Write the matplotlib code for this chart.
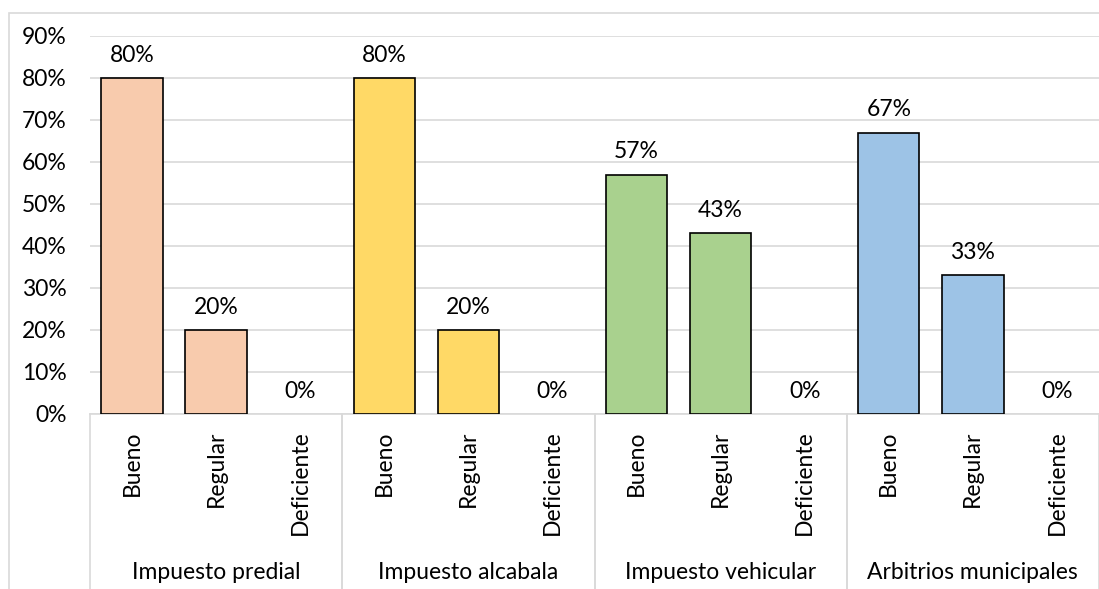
import matplotlib.pyplot as plt
from matplotlib.lines import Line2D
from matplotlib.patches import Rectangle

plt.rcParams['font.family'] = ['Lato', 'DejaVu Sans']

# data
groups = ['Impuesto predial', 'Impuesto alcabala', 'Impuesto vehicular', 'Arbitrios municipales']
levels = ['Bueno', 'Regular', 'Deficiente']
values = [
    [0.80, 0.20, 0.00],
    [0.80, 0.20, 0.00],
    [0.57, 0.43, 0.00],
    [0.67, 0.33, 0.00],
]
colors = ['#F8CBAD', '#FFD966', '#A9D18E', '#9DC3E6']
yticks = [0, 0.1, 0.2, 0.3, 0.4, 0.5, 0.6, 0.7, 0.8, 0.9]

FS = 16.5
W, H = 1099, 589
fig = plt.figure(figsize=(W / 100, H / 100), dpi=100)
ax = fig.add_axes([90 / W, 1 - 414 / H, 1 - 90 / W, (414 - 36) / H])

# outer chart border (Excel style)
fig.add_artist(Rectangle((9 / W, -0.1), 1.2, 1 - 13 / H + 0.1, transform=fig.transFigure,
                         fill=False, edgecolor='#D9D9D9', linewidth=1.2))

n = len(levels)
xtr = ax.get_xaxis_transform()
for g, (grp, vals, col) in enumerate(zip(groups, values, colors)):
    xs = [g * n + i for i in range(n)]
    edges = ['black' if v > 0 else 'none' for v in vals]
    ax.bar(xs, vals, width=0.73, color=col, edgecolor=edges, linewidth=1.2, zorder=3)
    for x, v, lvl in zip(xs, vals, levels):
        ax.annotate(f'{v * 100:.0f}%', (x, v), xytext=(0, 9), textcoords='offset points',
                    ha='center', va='bottom', fontsize=FS)
        ax.annotate(lvl, (x, 0), xycoords=xtr, xytext=(0, -12), textcoords='offset points',
                    ha='center', va='top', rotation=90, fontsize=FS)
    ax.annotate(grp, (g * n + 1, 0), xycoords=xtr, xytext=(0, -114), textcoords='offset points',
                ha='center', va='center', fontsize=FS)
    for xe in (g * n - 0.5, g * n + n - 0.5):
        ax.add_line(Line2D([xe, xe], [0, -0.5], transform=xtr, color='#D9D9D9',
                           linewidth=1.2, clip_on=False))

ax.set_xlim(-0.5, len(groups) * n - 0.5)
ax.set_ylim(0, 0.9)
ax.set_yticks(yticks)
ax.set_yticklabels([f'{t * 100:.0f}%' for t in yticks], fontsize=FS)
ax.tick_params(axis='y', length=0, pad=17)
ax.set_xticks([])
ax.grid(axis='y', color='#D9D9D9', linewidth=1.2, zorder=0)
ax.set_axisbelow(True)
for s in ['left', 'right', 'top']:
    ax.spines[s].set_visible(False)
ax.spines['bottom'].set_color('#D9D9D9')
ax.spines['bottom'].set_linewidth(1.2)

fig.savefig('out.png', dpi=100)
